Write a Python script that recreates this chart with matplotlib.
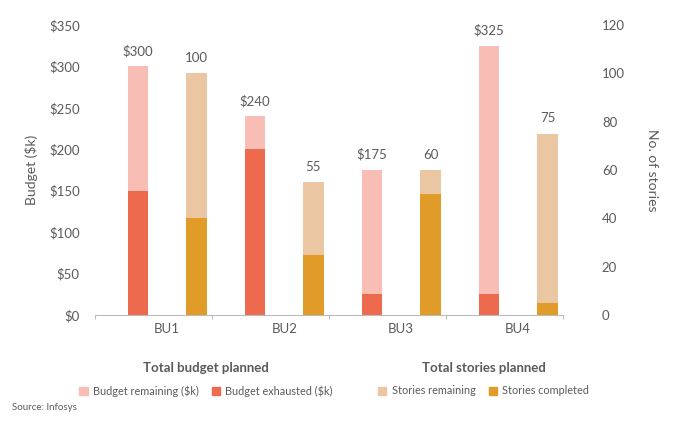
import matplotlib
matplotlib.use("Agg")
import matplotlib.pyplot as plt
from matplotlib.patches import Patch

plt.rcParams['font.family'] = ['Lato', 'DejaVu Sans']

units = ['BU1', 'BU2', 'BU3', 'BU4']
budget_total = [300, 240, 175, 325]
budget_exhausted = [150, 200, 25, 25]
stories_total = [100, 55, 60, 75]
stories_completed = [40, 25, 50, 5]

budget_ticks = [0, 50, 100, 150, 200, 250, 300, 350]
story_ticks = [0, 20, 40, 60, 80, 100, 120]

c_budget_rem = '#F8BDB5'
c_budget_exh = '#EE6A4F'
c_story_rem = '#EBC6A2'
c_story_done = '#E09B28'
txt = '#5a5a5a'

fig = plt.figure(figsize=(6.85, 4.25), dpi=100)
ax = fig.add_axes([0.1387, 0.2588, 0.6832, 0.6824])
ax2 = ax.twinx()

w = 0.175
xb = [i + 0.367 for i in range(len(units))]
xs = [i + 0.867 for i in range(len(units))]

budget_rem = [t - e for t, e in zip(budget_total, budget_exhausted)]
story_rem = [t - c for t, c in zip(stories_total, stories_completed)]

ax.bar(xb, budget_exhausted, width=w, color=c_budget_exh, zorder=2)
ax.bar(xb, budget_rem, width=w, bottom=budget_exhausted, color=c_budget_rem, zorder=2)
ax2.bar(xs, stories_completed, width=w, color=c_story_done, zorder=2)
ax2.bar(xs, story_rem, width=w, bottom=stories_completed, color=c_story_rem, zorder=2)

for x, v in zip(xb, budget_total):
    ax.annotate(f'${v}', (x, v), xytext=(0, 11), textcoords='offset points',
                ha='center', va='center', fontsize=9.5, color=txt)
for x, v in zip(xs, stories_total):
    ax2.annotate(f'{v}', (x, v), xytext=(0, 11), textcoords='offset points',
                 ha='center', va='center', fontsize=9.5, color=txt)

ax.set_xlim(0, 4)
ax.set_ylim(0, 350)
ax2.set_ylim(0, 120)
ax.set_yticks(budget_ticks)
ax.set_yticklabels([f'${v}' for v in budget_ticks])
ax2.set_yticks(story_ticks)

ax.set_xticks([0, 1, 2, 3, 4])
ax.set_xticklabels([])
ax.set_xticks([i + 0.617 for i in range(len(units))], minor=True)
ax.set_xticklabels(units, minor=True)
ax.tick_params(axis='x', which='major', length=3, color='#bbbbbb', direction='out')
ax.tick_params(axis='x', which='minor', length=0, pad=6, labelsize=9.5, labelcolor=txt)
ax.tick_params(axis='y', length=0, pad=11, labelsize=9.5, labelcolor=txt)
ax2.tick_params(axis='y', length=0, pad=28, labelsize=9.5, labelcolor=txt)

for a in (ax, ax2):
    for s in ('top', 'left', 'right'):
        a.spines[s].set_visible(False)
ax.spines['bottom'].set_color('#bbbbbb')
ax2.spines['bottom'].set_visible(False)

ax.set_ylabel('Budget ($k)', fontsize=10, color=txt, labelpad=8)
ax2.set_ylabel('No. of stories', fontsize=10, color=txt, rotation=270, labelpad=24)

fig.text(0.301, 0.134, 'Total budget planned', ha='center', va='center',
         fontsize=9.5, fontweight='bold', color=txt)
fig.text(0.706, 0.134, 'Total stories planned', ha='center', va='center',
         fontsize=9.5, fontweight='bold', color=txt)

leg_kw = dict(loc='center', ncol=2, frameon=False, fontsize=7.8, handlelength=0.75,
              handleheight=0.75, handletextpad=0.5, columnspacing=1.2, labelcolor=txt)
fig.legend([Patch(color=c_budget_rem), Patch(color=c_budget_exh)],
           ['Budget remaining ($k)', 'Budget exhausted ($k)'],
           bbox_to_anchor=(0.301, 0.08), **leg_kw)
fig.legend([Patch(color=c_story_rem), Patch(color=c_story_done)],
           ['Stories remaining', 'Stories completed'],
           bbox_to_anchor=(0.706, 0.08), **leg_kw)

fig.text(0.017, 0.04, 'Source: Infosys', ha='left', va='center', fontsize=7, color=txt)

fig.savefig('out.png', dpi=100)
